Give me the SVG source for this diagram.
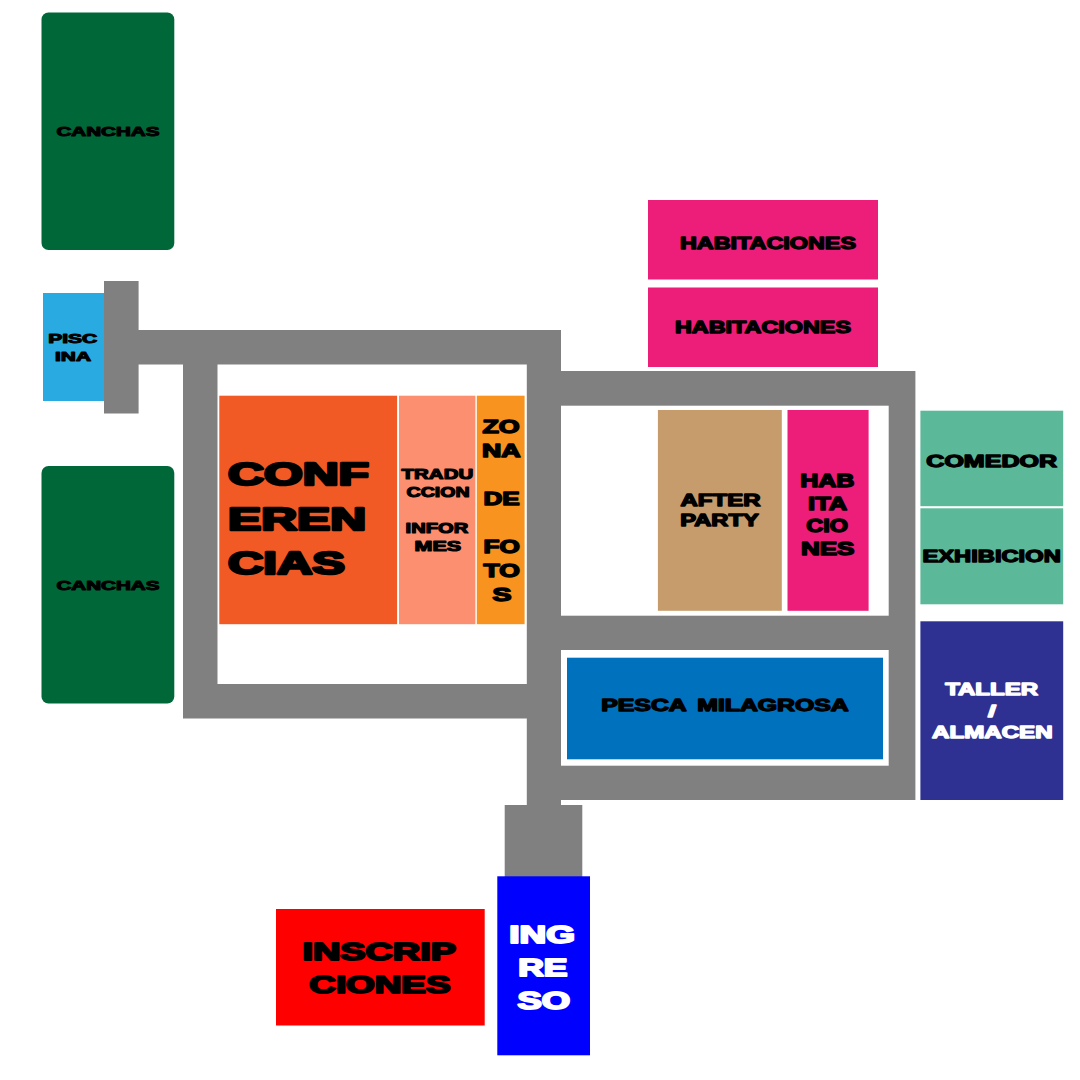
<svg xmlns="http://www.w3.org/2000/svg" width="1080" height="1080" viewBox="0 0 1080 1080">
<style>
text{font-family:"Liberation Sans",Arial,sans-serif;font-weight:700;fill:#000;stroke:#000;stroke-width:.08em;stroke-linejoin:round}
.w{fill:#fff;stroke:#fff}
.s10{font-size:13.4px}.s11{font-size:14.6px}.s12{font-size:16.2px}.s14{font-size:18.4px}.s18{font-size:23.6px}.s24{font-size:32px}
.wall{fill:#808080}
</style>
<rect width="1080" height="1080" fill="#fff"/>
<g id="walls">
<path class="wall" d="M104 281H138.6V330H561V371H915.4V800H561V805H582.3V877H504.7V805H526.8V718.5H183V364.5H138.6V413.5H104Z"/>
<rect x="217.5" y="364.5" width="309.3" height="319.5" fill="#fff"/>
<rect x="561" y="405.7" width="327.7" height="210" fill="#fff"/>
<rect x="561" y="650" width="327.7" height="115.7" fill="#fff"/>
</g>
<g id="canchas-1"><rect x="41.5" y="12.5" width="132.8" height="237.5" rx="7" fill="#006838"/><text class="s10" x="56.5" y="136" textLength="103" lengthAdjust="spacingAndGlyphs">CANCHAS</text></g>
<g id="canchas-2"><rect x="41.5" y="466" width="132.8" height="237.5" rx="7" fill="#006838"/><text class="s10" x="56.5" y="590" textLength="103" lengthAdjust="spacingAndGlyphs">CANCHAS</text></g>
<g id="piscina"><rect x="43" y="293" width="61" height="108" fill="#29ABE2"/>
<text class="s10" x="48.3" y="343.3" textLength="49" lengthAdjust="spacingAndGlyphs">PISC</text>
<text class="s10" x="55" y="361" textLength="36" lengthAdjust="spacingAndGlyphs">INA</text></g>
<g id="habitaciones-1"><rect x="648" y="200" width="230" height="79.5" fill="#ED1E79"/><text class="s12" x="680" y="249" textLength="176" lengthAdjust="spacingAndGlyphs">HABITACIONES</text></g>
<g id="habitaciones-2"><rect x="648" y="287.5" width="230" height="79.5" fill="#ED1E79"/><text class="s12" x="675" y="333" textLength="176" lengthAdjust="spacingAndGlyphs">HABITACIONES</text></g>
<g id="conferencias"><rect x="219.3" y="395.7" width="177.8" height="228.5" fill="#F15A24"/>
<text class="s24" x="228" y="485" textLength="141" lengthAdjust="spacingAndGlyphs">CONF</text>
<text class="s24" x="228" y="530" textLength="138" lengthAdjust="spacingAndGlyphs">EREN</text>
<text class="s24" x="228" y="574" textLength="117" lengthAdjust="spacingAndGlyphs">CIAS</text></g>
<g id="traduccion"><rect x="399" y="395.7" width="76.4" height="228.5" fill="#FB8F6F"/>
<text class="s11" x="401.6" y="479.3" textLength="71.6" lengthAdjust="spacingAndGlyphs">TRADU</text>
<text class="s11" x="406.6" y="497.3" textLength="63" lengthAdjust="spacingAndGlyphs">CCION</text>
<text class="s11" x="405.6" y="533" textLength="62.6" lengthAdjust="spacingAndGlyphs">INFOR</text>
<text class="s11" x="414.6" y="551" textLength="46.6" lengthAdjust="spacingAndGlyphs">MES</text></g>
<g id="zona-de-fotos"><rect x="476.8" y="395.7" width="47.8" height="228.5" fill="#F7931E"/>
<text class="s14" x="482.5" y="432.7" textLength="37.2" lengthAdjust="spacingAndGlyphs">ZO</text>
<text class="s14" x="482" y="456.7" textLength="38.6" lengthAdjust="spacingAndGlyphs">NA</text>
<text class="s14" x="483.5" y="504.7" textLength="36.2" lengthAdjust="spacingAndGlyphs">DE</text>
<text class="s14" x="483.5" y="553" textLength="36.2" lengthAdjust="spacingAndGlyphs">FO</text>
<text class="s14" x="483.5" y="577" textLength="36.2" lengthAdjust="spacingAndGlyphs">TO</text>
<text class="s14" x="492.5" y="601" textLength="19" lengthAdjust="spacingAndGlyphs">S</text></g>
<g id="after-party"><rect x="657.9" y="410" width="123.9" height="200.8" fill="#C69C6D"/>
<text class="s12" x="680.5" y="505.7" textLength="80" lengthAdjust="spacingAndGlyphs">AFTER</text>
<text class="s12" x="680.2" y="526" textLength="78.6" lengthAdjust="spacingAndGlyphs">PARTY</text></g>
<g id="habitaciones-3"><rect x="787.5" y="410" width="81.1" height="200.8" fill="#ED1E79"/>
<text class="s14" x="800.2" y="487" textLength="54.2" lengthAdjust="spacingAndGlyphs">HAB</text>
<text class="s14" x="808.1" y="510" textLength="39" lengthAdjust="spacingAndGlyphs">ITA</text>
<text class="s14" x="806.3" y="532" textLength="41.6" lengthAdjust="spacingAndGlyphs">CIO</text>
<text class="s14" x="800.9" y="554.7" textLength="53.6" lengthAdjust="spacingAndGlyphs">NES</text></g>
<g id="comedor"><rect x="920.4" y="410.7" width="142.8" height="95.5" fill="#5BB898"/><text class="s12" x="926.3" y="467.3" textLength="130.8" lengthAdjust="spacingAndGlyphs">COMEDOR</text></g>
<g id="exhibicion"><rect x="920.4" y="508.3" width="142.8" height="96" fill="#5BB898"/><text class="s12" x="922.4" y="562" textLength="138.4" lengthAdjust="spacingAndGlyphs">EXHIBICION</text></g>
<g id="taller"><rect x="920.4" y="621.3" width="142.8" height="178.7" fill="#2E3192"/>
<text class="s12 w" x="945.2" y="695.3" textLength="92.8" lengthAdjust="spacingAndGlyphs">TALLER</text>
<text class="s12 w" x="988" y="716.7" textLength="8" lengthAdjust="spacingAndGlyphs">/</text>
<text class="s12 w" x="932" y="738" textLength="120.6" lengthAdjust="spacingAndGlyphs">ALMACEN</text></g>
<g id="pesca-milagrosa"><rect x="567" y="657.7" width="316" height="101.6" fill="#0071BC"/><text class="s12" x="601.3" y="711" textLength="247.4" lengthAdjust="spacingAndGlyphs" word-spacing="3">PESCA MILAGROSA</text></g>
<g id="inscripciones"><rect x="276" y="909" width="208.7" height="116.5" fill="#FF0000"/>
<text class="s18" x="302.5" y="960" textLength="153.4" lengthAdjust="spacingAndGlyphs">INSCRIP</text>
<text class="s18" x="309.3" y="992.7" textLength="141.2" lengthAdjust="spacingAndGlyphs">CIONES</text></g>
<g id="ingreso"><rect x="497.3" y="876.3" width="92.7" height="179" fill="#0000FF"/>
<text class="s18 w" x="509.3" y="942.7" textLength="65.6" lengthAdjust="spacingAndGlyphs">ING</text>
<text class="s18 w" x="518.3" y="976" textLength="49.2" lengthAdjust="spacingAndGlyphs">RE</text>
<text class="s18 w" x="517.6" y="1009" textLength="52.6" lengthAdjust="spacingAndGlyphs">SO</text></g>
</svg>
